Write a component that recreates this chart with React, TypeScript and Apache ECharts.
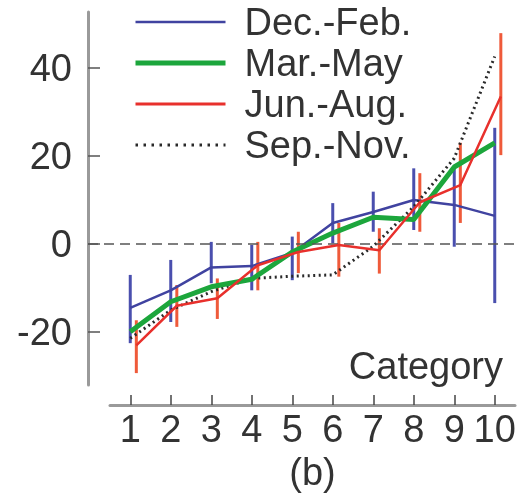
import React, { useEffect, useRef } from "react";
import * as echarts from "echarts";

const categories = [1, 2, 3, 4, 5, 6, 7, 8, 9, 10];
const yTicks = [-20, 0, 20, 40];
const seriesNames = ["Dec.-Feb.", "Mar.-May", "Jun.-Aug.", "Sep.-Nov."];

const decFeb = [-14.5, -10.5, -5.3, -5.0, -2.0, 4.8, 7.3, 10.0, 8.9, 6.4];
const decFebLow = [-22.5, -17.7, -8.9, -10.5, -8.2, 0.2, 2.8, 3.2, -0.6, -13.4];
const decFebHigh = [-7.0, -3.6, 0.5, -0.2, 1.7, 9.3, 11.9, 17.2, 17.5, 26.4];

const marMay = [-19.9, -13.1, -9.7, -8.0, -1.8, 2.5, 6.1, 5.6, 17.5, 23.0];

const junAug = [-23.0, -14.0, -12.3, -4.8, -1.8, -0.2, -1.4, 9.5, 13.4, 33.5];
const junAugLow = [-29.3, -18.8, -17.0, -10.5, -6.6, -7.4, -6.7, 2.8, 4.8, 20.2];
const junAugHigh = [-17.3, -9.3, -7.8, 0.5, 2.8, 4.8, 3.6, 16.1, 23.0, 47.9];
const junAugShift = 0.15;

const sepNov = [-21.4, -15.0, -10.8, -7.8, -7.3, -7.0, -0.5, 8.5, 19.5, 42.6];

const FONT = "'Liberation Sans', Arial, Helvetica, sans-serif";

export default function App() {
  const ref = useRef<HTMLDivElement>(null);

  useEffect(() => {
    if (!ref.current) return;
    const chart = echarts.init(ref.current, undefined, { renderer: "svg" });

    const stepPx = 40.5;
    const gridALeft = 88;
    const gridAWidth = 428;
    const gridBLeft = 110;
    const gridBWidth = 405;
    const xAMin = 0.5 - (gridBLeft - gridALeft) / stepPx;
    const xAMax = xAMin + gridAWidth / stepPx;

    const blue = "#4043a0";
    const green = "#1ca63c";
    const red = "#e8302c";
    const dark = "#2a2a2a";

    const errRender = (color: string) => (params: any, api: any) => {
      const x = api.value(0);
      const p1 = api.coord([x, api.value(1)]);
      const p2 = api.coord([x, api.value(2)]);
      return {
        type: "line",
        shape: { x1: p1[0], y1: p1[1], x2: p2[0], y2: p2[1] },
        style: { stroke: color, lineWidth: 3 },
      };
    };

    const option: any = {
      animation: false,
      textStyle: { fontFamily: FONT },
      grid: [
        {
          left: gridALeft,
          top: 12,
          width: gridAWidth,
          height: 373,
          containLabel: false,
          outerBoundsMode: "none",
        },
        {
          left: gridBLeft,
          top: 12,
          width: gridBWidth,
          height: 373,
          containLabel: false,
          outerBoundsMode: "none",
        },
      ],
      xAxis: [
        {
          gridIndex: 0,
          type: "value",
          min: xAMin,
          max: xAMax,
          show: false,
        },
        {
          gridIndex: 1,
          type: "value",
          position: "bottom",
          min: 0.5,
          max: 10.5,
          offset: 20,
          axisLine: {
            show: true,
            onZero: false,
            lineStyle: { color: "#9a9a9a", width: 3 },
          },
          axisTick: {
            show: true,
            inside: true,
            length: 10,
            customValues: categories,
            lineStyle: { color: "#444", width: 1.5 },
          },
          axisLabel: {
            customValues: categories,
            fontSize: 38,
            color: "#333",
            margin: 5,
            fontFamily: FONT,
          },
          splitLine: { show: false },
          name: "(b)",
          nameLocation: "middle",
          nameGap: 44,
          nameTextStyle: { fontSize: 38, color: "#333", fontFamily: FONT },
        },
      ],
      yAxis: [
        {
          gridIndex: 0,
          type: "value",
          min: -32,
          max: 52.7,
          axisLine: {
            show: true,
            onZero: false,
            lineStyle: { color: "#9a9a9a", width: 3 },
          },
          axisTick: {
            show: true,
            inside: true,
            length: 12,
            customValues: yTicks,
            lineStyle: { color: "#555", width: 1.5 },
          },
          axisLabel: {
            customValues: yTicks,
            fontSize: 38,
            color: "#333",
            margin: 16,
            fontFamily: FONT,
          },
          splitLine: { show: false },
        },
        { gridIndex: 1, type: "value", min: 0, max: 1, show: false },
      ],
      legend: {
        orient: "vertical",
        left: 133,
        top: 3,
        padding: 0,
        itemWidth: 90,
        itemHeight: 14,
        itemGap: 3,
        data: [
          { name: seriesNames[0], lineStyle: { width: 2.5, color: blue } },
          { name: seriesNames[1], lineStyle: { width: 5, color: green } },
          { name: seriesNames[2], lineStyle: { width: 3, color: red } },
          {
            name: seriesNames[3],
            lineStyle: { width: 3, color: dark, type: [2.5, 5.5] },
          },
        ],
        itemStyle: { opacity: 0 },
        textStyle: {
          fontSize: 38,
          lineHeight: 38,
          color: "#333",
          fontFamily: FONT,
          padding: [0, 0, 0, 14],
        },
      },
      graphic: [
        {
          type: "text",
          right: 17,
          top: 347,
          style: {
            text: "Category",
            fontSize: 38,
            fill: "#333",
            fontFamily: FONT,
          },
        },
      ],
      series: [
        {
          name: "errDecFeb",
          type: "custom",
          xAxisIndex: 0,
          yAxisIndex: 0,
          renderItem: errRender("#4a4fae"),
          encode: { x: 0, y: [1, 2] },
          data: categories.map((c, i) => [c, decFebLow[i], decFebHigh[i]]),
          z: 2,
        },
        {
          name: "errJunAug",
          type: "custom",
          xAxisIndex: 0,
          yAxisIndex: 0,
          renderItem: errRender("#ef5a3a"),
          encode: { x: 0, y: [1, 2] },
          data: categories.map((c, i) => [c + junAugShift, junAugLow[i], junAugHigh[i]]),
          z: 2,
        },
        {
          name: seriesNames[0],
          type: "line",
          xAxisIndex: 0,
          yAxisIndex: 0,
          symbol: "none",
          data: categories.map((c, i) => [c, decFeb[i]]),
          lineStyle: { color: blue, width: 2.5 },
          itemStyle: { color: blue },
          z: 3,
        },
        {
          name: seriesNames[3],
          type: "line",
          xAxisIndex: 0,
          yAxisIndex: 0,
          symbol: "none",
          data: categories.map((c, i) => [c, sepNov[i]]),
          lineStyle: { color: dark, width: 3, type: [2, 3.5] },
          itemStyle: { color: dark },
          z: 3,
          markLine: {
            silent: true,
            symbol: "none",
            label: { show: false },
            lineStyle: { color: "#555", width: 1.5, type: [10, 6] },
            data: [{ yAxis: 0 }],
          },
        },
        {
          name: seriesNames[1],
          type: "line",
          xAxisIndex: 0,
          yAxisIndex: 0,
          symbol: "none",
          data: categories.map((c, i) => [c, marMay[i]]),
          lineStyle: { color: green, width: 5 },
          itemStyle: { color: green },
          z: 4,
        },
        {
          name: seriesNames[2],
          type: "line",
          xAxisIndex: 0,
          yAxisIndex: 0,
          symbol: "none",
          data: categories.map((c, i) => [c + junAugShift, junAug[i]]),
          lineStyle: { color: red, width: 2.5 },
          itemStyle: { color: red },
          z: 5,
        },
      ],
    };

    chart.setOption(option);
    return () => chart.dispose();
  }, []);

  return (
    <div
      ref={ref}
      style={{ position: "fixed", left: 0, top: 0, width: 520, height: 494 }}
    />
  );
}
